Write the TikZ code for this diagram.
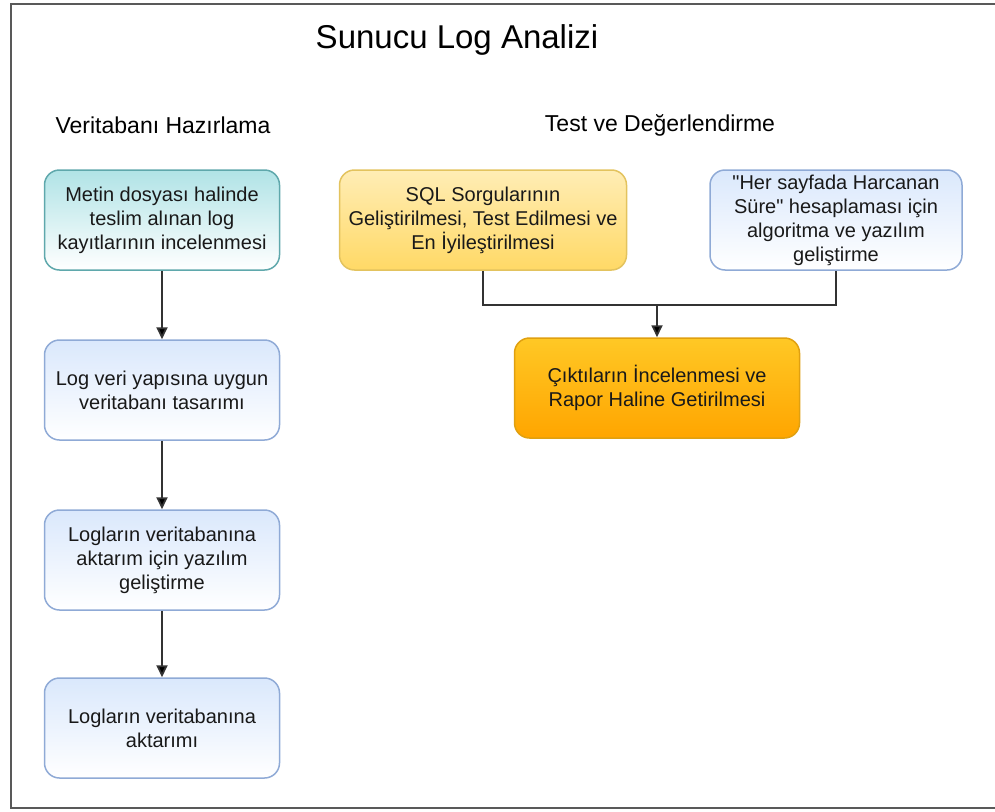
\documentclass[tikz,border=0pt]{standalone}
\usepackage{fontspec}
\setmainfont{Liberation Sans}
\usetikzlibrary{arrows.meta}

\definecolor{tealfill}{HTML}{B0E3E6}
\definecolor{tealline}{HTML}{5FA8AC}
\definecolor{bluefill}{HTML}{DAE8FC}
\definecolor{blueline}{HTML}{8FAAD6}
\definecolor{yeltop}{HTML}{FFEDB5}
\definecolor{yelbot}{HTML}{FFD966}
\definecolor{yelline}{HTML}{E3C35E}
\definecolor{orgtop}{HTML}{FFC825}
\definecolor{orgbot}{HTML}{FFA500}
\definecolor{orgline}{HTML}{E0A010}
\definecolor{wire}{HTML}{333333}

\begin{document}
\begin{tikzpicture}[x=1pt,y=-1pt,
    box/.style={rounded corners=15pt, line width=1.5pt, align=center,
        minimum height=100pt, text=black!90,
        font=\fontsize{20}{24}\selectfont},
    tealbox/.style={box, draw=tealline, top color=tealfill, bottom color=white, minimum width=235pt},
    bluebox/.style={box, draw=blueline, top color=bluefill, bottom color=white},
    yelbox/.style={box, draw=yelline, top color=yeltop, bottom color=yelbot},
    orgbox/.style={box, draw=orgline, top color=orgtop, bottom color=orgbot},
    link/.style={line width=1.8pt, draw=wire, -{Triangle[length=12pt,width=11pt,fill=black]}}]
    \useasboundingbox (0,0) rectangle (995,811);
    \draw [line width=2.5pt, draw=black!65] (995,4) -| (11,808) -- (995,808);

    \node (TITLE) at (457,40) {\fontsize{33}{40}\selectfont Sunucu Log Analizi};
    \node (VTH) at (163,125) {\fontsize{23}{28}\selectfont Veritabanı Hazırlama};
    \node (TVD) at (660,125) {\fontsize{23}{28}\selectfont Test ve Değerlendirme};

    \node [tealbox] (MDI) at (162,220) {Metin dosyası halinde\\teslim alınan log\\kayıtlarının incelenmesi};
    \node [bluebox, minimum width=235pt] (LVY) at (162,390) {Log veri yapısına uygun\\veritabanı tasarımı};
    \node [bluebox, minimum width=235pt] (LAY) at (162,560) {Logların veritabanına\\aktarım için yazılım\\geliştirme};
    \node [bluebox, minimum width=235pt] (LVA) at (162,728) {Logların veritabanına\\aktarımı};

    \node [yelbox, minimum width=287pt] (SQL) at (483,220) {SQL Sorgularının\\Geliştirilmesi, Test Edilmesi ve\\En İyileştirilmesi};
    \node [bluebox, minimum width=252pt] (HSH) at (836,220) {\textquotedbl Her sayfada Harcanan\\Süre\textquotedbl{} hesaplaması için\\algoritma ve yazılım\\geliştirme};
    \node [orgbox, minimum width=285pt] (CIR) at (657,388) {Çıktıların İncelenmesi ve\\Rapor Haline Getirilmesi};
    \coordinate (JN) at (657,305);

    \draw [link] (MDI) -- (LVY);
    \draw [link] (LVY) -- (LAY);
    \draw [link] (LAY) -- (LVA);
    \draw [line width=1.8pt, draw=wire] (SQL.south) |- (JN) -| (HSH.south);
    \draw [link] (JN) -- (CIR);
\end{tikzpicture}
\end{document}
